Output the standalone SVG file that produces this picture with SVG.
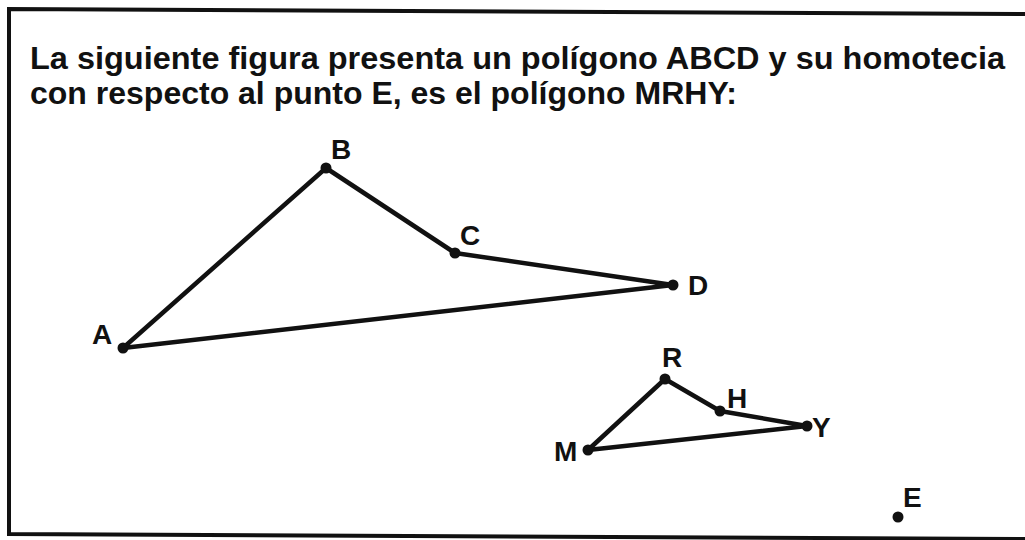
<svg xmlns="http://www.w3.org/2000/svg" width="1025" height="540" viewBox="0 0 1025 540">
<style>
.title{font-family:"Liberation Sans",Arial,sans-serif;font-weight:bold;font-size:32px;fill:#111}
.lbl{font-family:"Liberation Sans",Arial,sans-serif;font-weight:bold;font-size:28px;fill:#111}
.edge{stroke:#111;stroke-width:4.5;fill:none;stroke-linecap:round;stroke-linejoin:round}
.pt{fill:#111}
</style>
<rect width="1025" height="540" fill="#fff"/>
<g id="frame" stroke="#111" stroke-width="4" fill="none">
<polyline points="1025,14 9,9 9,534 1025,539"/>
</g>
<g id="title">
<text class="title" x="30" y="69" textLength="975" lengthAdjust="spacingAndGlyphs">La siguiente figura presenta un polígono ABCD y su homotecia</text>
<text class="title" x="30" y="104">con respecto al punto E, es el polígono MRHY:</text>
</g>
<g id="connectors">
<polygon class="edge" points="123,348 326,168 455,253 673,285"/>
<polygon class="edge" points="588,450 665,379 720,411 807,426"/>
</g>
<g id="A"><circle class="pt" cx="123" cy="348" r="5.5"/><text class="lbl" x="92" y="344">A</text></g>
<g id="B"><circle class="pt" cx="326" cy="168" r="5.5"/><text class="lbl" x="331" y="159">B</text></g>
<g id="C"><circle class="pt" cx="455" cy="253" r="5.5"/><text class="lbl" x="460" y="245">C</text></g>
<g id="D"><circle class="pt" cx="673" cy="285" r="5.5"/><text class="lbl" x="688" y="295">D</text></g>
<g id="M"><circle class="pt" cx="588" cy="450" r="5.5"/><text class="lbl" x="554" y="461">M</text></g>
<g id="R"><circle class="pt" cx="665" cy="379" r="5.5"/><text class="lbl" x="662" y="367">R</text></g>
<g id="H"><circle class="pt" cx="720" cy="411" r="5.5"/><text class="lbl" x="727" y="408">H</text></g>
<g id="Y"><circle class="pt" cx="807" cy="426" r="5.5"/><text class="lbl" x="812" y="437">Y</text></g>
<g id="E"><circle class="pt" cx="898" cy="517" r="5.5"/><text class="lbl" x="903" y="507">E</text></g>
</svg>
